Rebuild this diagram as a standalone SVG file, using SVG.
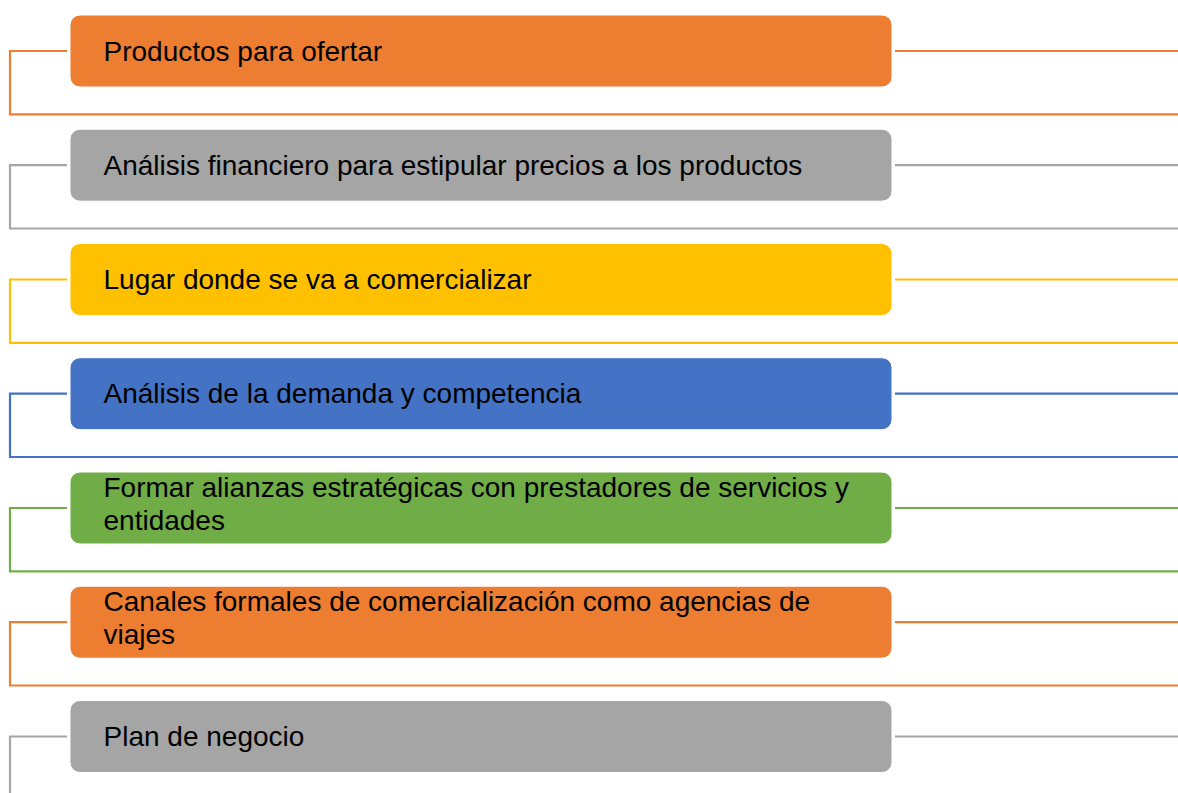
<svg xmlns="http://www.w3.org/2000/svg" width="1178" height="793" viewBox="0 0 1178 793">
<style>
.box{stroke:#ffffff;stroke-width:1}
.t{font-family:"Liberation Sans",Arial,sans-serif;font-size:28px;fill:#000}
.ln{fill:none;stroke-width:2.2}
.o{fill:#ED7D31}.g{fill:#A5A5A5}.y{fill:#FFC000}.b{fill:#4472C4}.gr{fill:#70AD47}
.so{stroke:#ED7D31}.sg{stroke:#A5A5A5}.sy{stroke:#FFC000}.sb{stroke:#4472C4}.sgr{stroke:#70AD47}
</style>
<rect width="1178" height="793" fill="#ffffff"/>
<g id="connectors">
<path class="ln so" d="M67,51 H10 V114.3 H1178 M895,51 H1178"/>
<path class="ln sg" d="M67,165.2 H10 V228.5 H1178 M895,165.2 H1178"/>
<path class="ln sy" d="M67,279.5 H10 V342.8 H1178 M895,279.5 H1178"/>
<path class="ln sb" d="M67,393.7 H10 V457 H1178 M895,393.7 H1178"/>
<path class="ln sgr" d="M67,508 H10 V571.3 H1178 M895,508 H1178"/>
<path class="ln so" d="M67,622.2 H10 V685.5 H1178 M895,622.2 H1178"/>
<path class="ln sg" d="M67,736.5 H10 V793 M895,736.5 H1178"/>
</g>
<g id="n1"><rect class="box o" x="70" y="15" width="822" height="72" rx="10"/><text class="t" x="103.5" y="60.5">Productos para ofertar</text></g>
<g id="n2"><rect class="box g" x="70" y="129.2" width="822" height="72" rx="10"/><text class="t" x="103.5" y="174.7">Análisis financiero para estipular precios a los productos</text></g>
<g id="n3"><rect class="box y" x="70" y="243.5" width="822" height="72" rx="10"/><text class="t" x="103.5" y="289">Lugar donde se va a comercializar</text></g>
<g id="n4"><rect class="box b" x="70" y="357.7" width="822" height="72" rx="10"/><text class="t" x="103.5" y="403.2">Análisis de la demanda y competencia</text></g>
<g id="n5"><rect class="box gr" x="70" y="472" width="822" height="72" rx="10"/><text class="t" x="103.5" y="497">Formar alianzas estratégicas con prestadores de servicios y</text><text class="t" x="103.5" y="530">entidades</text></g>
<g id="n6"><rect class="box o" x="70" y="586.2" width="822" height="72" rx="10"/><text class="t" x="103.5" y="611.2">Canales formales de comercialización como agencias de</text><text class="t" x="103.5" y="644.2">viajes</text></g>
<g id="n7"><rect class="box g" x="70" y="700.5" width="822" height="72" rx="10"/><text class="t" x="103.5" y="746">Plan de negocio</text></g>
</svg>
